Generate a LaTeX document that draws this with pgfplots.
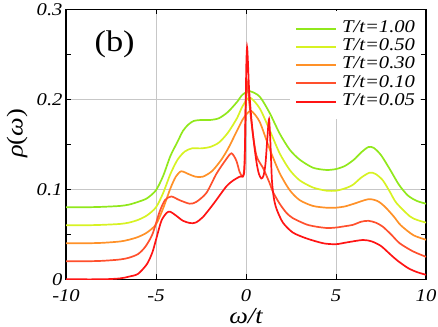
\documentclass[border=0pt]{standalone}
\usepackage{fontspec}
\setmainfont{Liberation Serif}[FakeStretch=1.15]
\usepackage{pgfplots}
\pgfplotsset{compat=1.18}

\definecolor{cA}{RGB}{145,232,28}
\definecolor{cB}{RGB}{215,242,35}
\definecolor{cC}{RGB}{255,145,40}
\definecolor{cD}{RGB}{255,80,45}
\definecolor{cE}{RGB}{255,20,20}

\begin{document}
\begin{tikzpicture}
\begin{axis}[
  name=ax,
  scale only axis, width=360bp, height=270bp,
  xmin=-10, xmax=10, ymin=0, ymax=0.3,
  xtick={-10,-5,0,5,10},
  ytick={0,0.1,0.2,0.3},
  minor ytick={0.05,0.15,0.25},
  tick align=inside, major tick length=5bp, minor tick length=5bp,
  every tick/.style={black, line width=0.8bp},
  axis line style={line width=1.2bp},
  grid=major,
  major grid style={black!22, line width=0.8bp},
  /pgf/number format/assume math mode=true,
  /pgf/number format/fixed,
  tick label style={font=\fontsize{18}{18}\selectfont\itshape},
  xticklabel style={yshift=-7bp},
  xlabel={\itshape ω/t},
  ylabel={{\itshape ρ}({\itshape ω})},
  label style={font=\fontsize{23}{23}\selectfont},
  xlabel style={at={(axis description cs:0.5,-0.135)}, anchor=center},
  ylabel style={at={(axis description cs:-0.136,0.54)}, anchor=center},
  every axis plot/.append style={line width=1.7bp, smooth, tension=0.45},
  legend cell align=left,
  legend image code/.code={\draw[#1, line width=2bp] (0bp,0bp) -- (40bp,0bp);},
  legend style={at={(axis description cs:0.622,0.993)}, anchor=north west,
    draw=none, fill=white, inner xsep=5bp, inner ysep=8bp, column sep=5bp,
    font=\fontsize{18}{18}\selectfont\itshape,
    nodes={inner sep=0bp, text height=12.8bp, text depth=5.5bp}},
]
% T/t = 1.00
\addplot[cA] coordinates {
(-10,0.080) (-9,0.080) (-8,0.0805) (-7,0.0815) (-6.5,0.083) (-6,0.086)
(-5.5,0.090) (-5,0.099) (-4.6,0.115) (-4.2,0.137) (-3.8,0.153) (-3.5,0.165)
(-3.2,0.172) (-2.9,0.176) (-2.5,0.177) (-2,0.177) (-1.5,0.179) (-1,0.186)
(-0.5,0.197) (-0.2,0.205) (0.2,0.209) (0.76,0.203) (1.31,0.185) (1.87,0.162)
(2.43,0.144) (2.98,0.133) (3.72,0.124) (4.46,0.1215) (5,0.1225) (5.5,0.126)
(6,0.133) (6.4,0.141) (6.8,0.147) (7.1,0.146) (7.5,0.138) (8,0.122)
(8.5,0.105) (9,0.093) (9.5,0.087) (10,0.084)
};
% T/t = 0.50
\addplot[cB] coordinates {
(-10,0.060) (-9,0.060) (-8,0.0605) (-7,0.0615) (-6.5,0.063) (-6,0.066)
(-5.5,0.071) (-5,0.080) (-4.6,0.096) (-4.2,0.117) (-3.8,0.133) (-3.4,0.142)
(-3,0.1455) (-2.5,0.1455) (-2,0.147) (-1.5,0.152) (-1,0.163) (-0.5,0.179)
(-0.2,0.192) (0.2,0.202) (0.76,0.190) (1.31,0.166) (1.87,0.140) (2.43,0.1215)
(2.98,0.110) (3.72,0.102) (4.46,0.0985) (5,0.0985) (5.5,0.101) (5.94,0.105)
(6.4,0.113) (6.87,0.1185) (7.2,0.117) (7.6,0.110) (8,0.097) (8.35,0.085)
(9.1,0.070) (9.5,0.066) (10,0.063)
};
% T/t = 0.30
\addplot[cC] coordinates {
(-10,0.040) (-9,0.040) (-8,0.0405) (-7,0.042) (-6.5,0.044) (-6,0.047)
(-5.5,0.052) (-5,0.061) (-4.6,0.079) (-4.2,0.101) (-3.9,0.114) (-3.6,0.120)
(-3.2,0.117) (-2.8,0.114) (-2.4,0.114) (-1.9,0.120) (-1.4,0.132) (-1,0.145)
(-0.6,0.161) (-0.2,0.177) (0.05,0.184) (0.3,0.187) (0.76,0.175) (1.31,0.145)
(1.87,0.118) (2.43,0.099) (2.98,0.088) (3.72,0.0815) (4.5,0.0795) (5,0.0796)
(5.5,0.081) (6,0.084) (6.8,0.089) (7.3,0.087) (7.7,0.081) (8.2,0.070)
(8.6,0.060) (9.3,0.049) (10,0.044)
};
% T/t = 0.10
\addplot[cD] coordinates {
(-10,0.020) (-9,0.020) (-8,0.0205) (-7,0.022) (-6.5,0.024) (-6,0.028)
(-5.6,0.036) (-5.2,0.050) (-4.8,0.075) (-4.5,0.088) (-4.15,0.092) (-3.7,0.088)
(-3.13,0.084) (-2.76,0.086) (-2.2,0.096) (-1.65,0.117) (-1.15,0.132)
(-0.81,0.140) (-0.54,0.132) (-0.35,0.119) (-0.17,0.114) (-0.08,0.130)
(-0.02,0.190) (0.03,0.221) (0.1,0.212) (0.2,0.193) (0.39,0.160) (0.57,0.138)
(0.75,0.130) (0.94,0.124) (1.12,0.116) (1.31,0.107) (1.5,0.097) (1.87,0.084)
(2.24,0.074) (2.6,0.068) (3.35,0.061) (3.9,0.0585) (4.5,0.057) (5,0.0575)
(5.5,0.059) (5.94,0.0605) (6.4,0.064) (6.8,0.065) (7.2,0.063) (7.6,0.0585)
(8.1,0.049) (8.54,0.040) (9.28,0.031) (10,0.025)
};
% T/t = 0.05
\addplot[cE] coordinates {
(-10,0.0) (-8,0.0) (-7,0.001) (-6.5,0.003) (-6,0.006) (-5.5,0.017)
(-5.2,0.030) (-5,0.044) (-4.7,0.065) (-4.4,0.074) (-4.2,0.075) (-3.9,0.071)
(-3.5,0.065) (-3.1,0.0625) (-2.8,0.063) (-2.4,0.069) (-1.8,0.084) (-1.1,0.103)
(-0.7,0.110) (-0.35,0.114) (-0.15,0.115) (-0.08,0.125) (-0.03,0.180)
(0.02,0.240) (0.06,0.258) (0.1,0.245) (0.17,0.212) (0.3,0.178) (0.45,0.150)
(0.6,0.128) (0.72,0.117) (0.85,0.112) (0.97,0.115) (1.08,0.128) (1.18,0.155)
(1.28,0.178) (1.36,0.150) (1.44,0.110) (1.55,0.090) (1.7,0.078) (2.05,0.063)
(2.6,0.052) (3.35,0.0455) (4.3,0.040) (5,0.039) (5.6,0.041) (6.5,0.0437)
(7,0.042) (7.5,0.037) (8,0.028) (8.4,0.021) (9,0.0125) (9.5,0.008) (10,0.005)
};
\legend{T/t=1.00, T/t=0.50, T/t=0.30, T/t=0.10, T/t=0.05}
\node[font=\fontsize{30}{30}\selectfont] at (axis cs:-7.3,0.2615) {(b)};
\end{axis}
\pgfresetboundingbox
\path[use as bounding box] ([xshift=-66bp,yshift=-47.7bp]ax.south west)
  rectangle ([xshift=12bp,yshift=9.3bp]ax.north east);
\end{tikzpicture}
\end{document}
